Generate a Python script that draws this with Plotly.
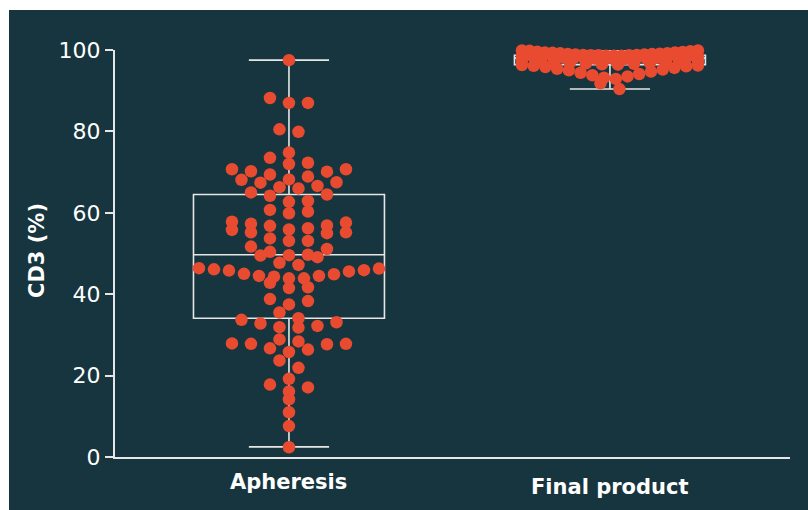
import plotly.graph_objects as go
import bisect

# ---------------- data ----------------
categories = ["Apheresis", "Final product"]

apheresis = [
    97.5, 87.0, 87.0, 88.2, 79.9, 80.5, 74.8, 73.5, 72.3, 70.7, 70.7, 70.1, 72.0, 70.2, 69.4,
    68.2, 67.5, 67.4, 68.1, 68.9, 66.3, 65.0, 64.2, 64.5, 66.0, 66.6, 62.7, 62.9, 60.7, 60.3,
    59.9, 57.8, 57.6, 56.9, 56.2, 55.8, 55.2, 55.0, 55.2, 55.9, 56.8, 57.3, 53.7, 53.1, 53.1,
    51.1, 51.7, 50.4, 49.6, 49.1, 49.5, 49.7, 47.7, 47.2, 46.3, 45.9, 44.3, 45.8, 43.9, 44.9,
    44.5, 44.5, 45.0, 42.8, 45.6, 43.9, 46.1, 46.4, 41.7, 41.5, 38.3, 37.5, 38.8,
    35.5, 34.1, 33.1, 32.2, 31.8, 31.9, 32.8, 33.7, 28.9, 27.9, 27.8, 26.7, 25.8, 26.4, 27.7,
    27.8, 28.4, 23.7, 21.9, 19.2, 17.8, 17.1, 16.1, 14.2, 11.0, 7.6, 2.4,
]

final_product = [
    99.9, 99.9, 99.8, 99.7, 99.6, 99.5, 99.4, 99.4, 99.3, 99.2, 99.2, 99.1, 99.0, 99.0,
    98.9, 98.9, 98.8, 98.8,
    98.7, 98.7, 98.7, 98.6, 98.6, 98.6, 98.5, 98.5, 98.5, 98.4, 98.4, 98.3, 98.3, 98.2,
    98.2, 98.1, 98.1, 98.0,
    98.0, 97.9, 97.9, 97.8, 97.7, 97.6, 97.5, 97.4, 97.3, 97.2, 97.1, 97.0, 96.9, 96.8,
    96.7, 96.6, 96.5, 96.4,
    96.3, 96.2, 96.1, 96.0, 95.8, 95.6, 95.4, 95.2, 95.0, 94.7, 94.4, 94.1, 93.8, 93.5,
    93.2, 92.9, 91.8, 90.4,
]

# box statistics
box_q1 = [34.1, 96.4]
box_median = [49.7, 98.0]
box_q3 = [64.5, 98.7]
box_low = [2.5, 90.4]
box_high = [97.5, 99.9]

y_ticks = [0, 20, 40, 60, 80, 100]

# ---------------- style / geometry ----------------
W, H = 808, 510
ML, MR, MT, MB = 115, 18, 50, 53
PW, PH = W - ML - MR, H - MT - MB
X_RANGE = [-0.542, 1.561]
Y_RANGE = [0, 100]
XPX = PW / (X_RANGE[1] - X_RANGE[0])   # px per x unit

BG = "#17353e"
DOT = "#e94b31"
LINE = "#e6e6e6"
FONT = "DejaVu Sans"

# row-binning edges for the dot layout (layout parameters, not data)
EDGES_A = [3.1 * k for k in range(0, 34)]
EDGES_F = [89.2, 92.8, 96.4, 97.6, 98.6, 100.1]


def binned_swarm(values, edges, spacing, max_half):
    """Scatter-dot layout: values binned in y, spread in rows (lowest at centre)."""
    bins = {}
    for i, v in enumerate(values):
        bins.setdefault(bisect.bisect_right(edges, v), []).append(i)
    offs = [0.0] * len(values)
    for members in bins.values():
        members.sort(key=lambda i: values[i])
        n = len(members)
        s = spacing
        if n > 1 and (n - 1) * s / 2 > max_half:
            s = 2 * max_half / (n - 1)
        if n % 2 == 1:
            slots = [0]
            for k in range(1, n):
                slots.append(((k + 1) // 2) * (1 if k % 2 else -1))
        else:
            slots = [((k // 2) + 0.5) * (1 if k % 2 == 0 else -1) for k in range(n)]
        for i, slot in zip(members, slots):
            offs[i] = slot * s / XPX
    return offs


off_a = binned_swarm(apheresis, EDGES_A, 19, 90)
off_f = binned_swarm(final_product, EDGES_F, 19, 88)

fig = go.Figure()

for i, name in enumerate(categories):
    fig.add_trace(go.Box(
        x=[i], q1=[box_q1[i]], median=[box_median[i]], q3=[box_q3[i]],
        lowerfence=[box_low[i]], upperfence=[box_high[i]],
        width=0.595, whiskerwidth=0.42, boxpoints=False,
        line=dict(color=LINE, width=1.6), fillcolor="rgba(0,0,0,0)",
        showlegend=False, hoverinfo="skip",
    ))

for i, (vals, offs) in enumerate([(apheresis, off_a), (final_product, off_f)]):
    fig.add_trace(go.Scatter(
        x=[i + o for o in offs], y=vals, mode="markers",
        marker=dict(size=12.5, color=DOT, line=dict(width=0)),
        cliponaxis=False, showlegend=False,
    ))

# category labels
label_y_px = [482, 487]
for i, name in enumerate(categories):
    fig.add_annotation(
        x=i, xref="x", y=(MT + PH - label_y_px[i]) / PH, yref="paper",
        text=f"<b>{name}</b>", showarrow=False, xanchor="center", yanchor="middle",
        font=dict(family=FONT, size=21, color="white"),
    )

# y title
fig.add_annotation(
    x=(37 - ML) / PW, xref="paper", y=(MT + PH - 251) / PH, yref="paper",
    text="<b>CD3 (%)</b>", textangle=-90, showarrow=False,
    xanchor="center", yanchor="middle",
    font=dict(family=FONT, size=21, color="white"),
)

# white strips (outer frame)
fig.add_shape(type="rect", xref="paper", yref="paper",
              x0=(0 - ML) / PW, x1=(9 - ML) / PW, y0=(MT + PH - H) / PH, y1=(MT + PH) / PH,
              fillcolor="white", line=dict(width=0), layer="below")
fig.add_shape(type="rect", xref="paper", yref="paper",
              x0=(0 - ML) / PW, x1=(W - ML) / PW, y0=(MT + PH - 10) / PH, y1=(MT + PH) / PH,
              fillcolor="white", line=dict(width=0), layer="below")

fig.update_layout(
    width=W, height=H, margin=dict(l=ML, r=MR, t=MT, b=MB, pad=0),
    paper_bgcolor=BG, plot_bgcolor=BG,
    font=dict(family=FONT, color="white"),
    xaxis=dict(range=X_RANGE, showgrid=False, zeroline=False, showticklabels=False,
               showline=True, linecolor=LINE, linewidth=2, ticks=""),
    yaxis=dict(range=Y_RANGE, tickvals=y_ticks, showgrid=False, zeroline=False,
               showline=True, linecolor=LINE, linewidth=2,
               ticks="outside", ticklen=8, tickwidth=1.5, tickcolor=LINE,
               tickfont=dict(family=FONT, size=22, color="white")),
)

fig.write_html("out.html", post_script="document.body.style.margin='0';",
               config={"displayModeBar": False})
